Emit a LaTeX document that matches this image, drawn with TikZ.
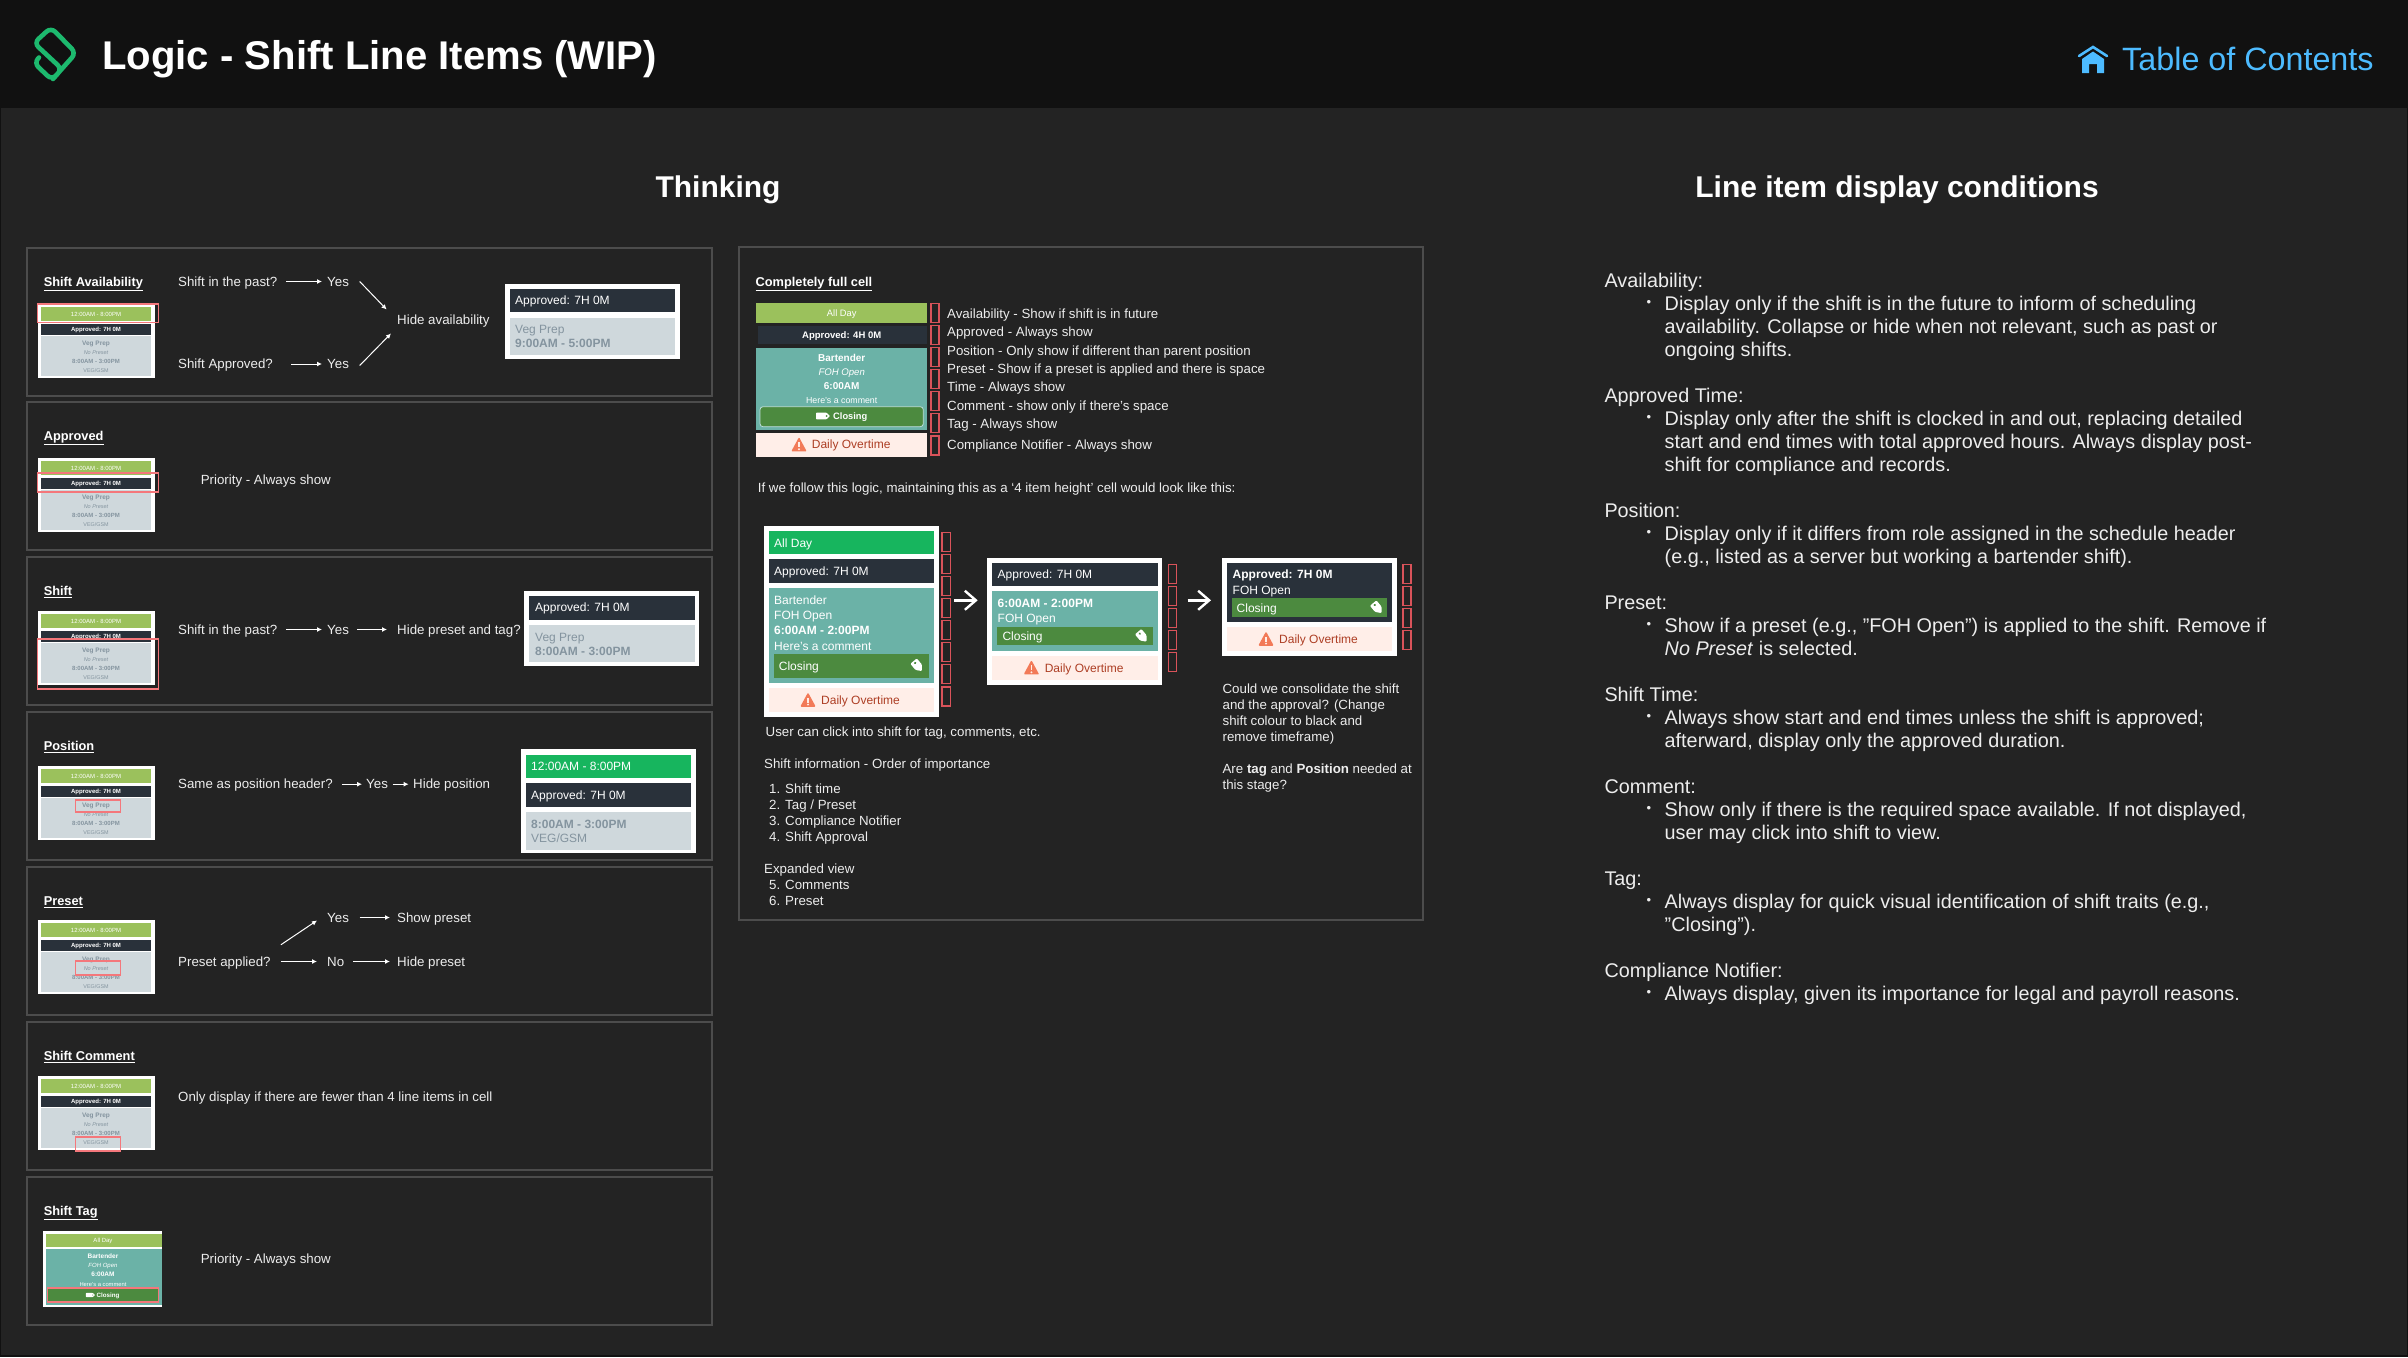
\documentclass[tikz,border=0pt]{standalone}
\usepackage{fontspec}
\setmainfont{Liberation Sans}
\usetikzlibrary{calc,arrows.meta}
\definecolor{pagebg}{HTML}{232323}
\definecolor{headbg}{HTML}{111111}
\definecolor{panelline}{HTML}{4C4C4C}
\definecolor{paletxt}{HTML}{EDEDED}
\definecolor{availgreen}{HTML}{9BC15C}
\definecolor{brightgreen}{HTML}{17B55E}
\definecolor{apprdark}{HTML}{29313A}
\definecolor{shiftgray}{HTML}{CFD8DC}
\definecolor{graytxt}{HTML}{84949F}
\definecolor{markred}{HTML}{F4777B}
\definecolor{boxred}{HTML}{D9535A}
\definecolor{shiftteal}{HTML}{6BB2A7}
\definecolor{taggreen}{HTML}{4C8A3F}
\definecolor{overfill}{HTML}{FFEEE8}
\definecolor{overtxt}{HTML}{AD3E24}
\definecolor{warncol}{HTML}{F27A58}
\definecolor{tocblue}{HTML}{4DBBFF}
\definecolor{logogreen}{HTML}{1DB96E}
\tikzset{
  txt/.style={anchor=west,inner sep=0pt,text depth=0pt},
  lbl/.style={txt,text=paletxt,text height=9.3pt,yshift=-0.5pt,font=\fontsize{13.3}{15}\selectfont},
  lblhead/.style={txt,text=white,text height=9.3pt,yshift=-0.8pt,font=\bfseries\fontsize{12.8}{15}\selectfont},
  body/.style={txt,text=paletxt,text height=13.6pt,yshift=-0.5pt,font=\fontsize{19.8}{23}\selectfont},
  celltxt/.style={txt,text=white,text height=8.6pt,font=\fontsize{12}{14}\selectfont},
  fulltxt/.style={anchor=center,inner sep=0pt,text depth=0pt,text=white,text height=6.6pt,font=\fontsize{9.3}{11}\selectfont},
  minitxt/.style={anchor=center,inner sep=0pt,text depth=0pt,text=graytxt,text height=4.3pt,font=\fontsize{6}{7}\selectfont},
  flow/.style 2 args={-{Latex[length=5pt,width=5pt]},white,line width=1pt,shorten <=#1pt,shorten >=#2pt},
  bigflow/.style={-{Straight Barb[length=11pt,width=19pt,line width=2.4pt]},white,line width=2.4pt},
  markbox/.style={draw=markred,line width=1.5pt},
  slotbox/.style={draw=boxred,line width=1.5pt},
}
\newcommand{\warnmark}[2]{
  \fill[warncol,draw=warncol,line width=1.5pt,line join=round] (#1-6.5,#2+6) -- (#1,#2-6) -- (#1+6.5,#2+6) -- cycle;
  \fill[overfill] (#1-0.9,#2-2.5) rectangle (#1+0.9,#2+2.5);
  \fill[overfill] (#1,#2+4.6) circle (1.1pt);
}
\newcommand{\tagmark}[2]{
  \begin{scope}[shift={(#1,#2)},rotate=-50]
    \fill[white,rounded corners=1pt] (-6,-4.2) -- (2,-4.2) -- (7,0) -- (2,4.2) -- (-6,4.2) -- cycle;
    \fill[taggreen] (-3.5,0) circle (1.2pt);
  \end{scope}
}
\newcommand{\tagflat}[3]{
  \begin{scope}[shift={(#1,#2)},scale=#3]
    \fill[white,rounded corners=0.6pt] (-7,-3.3) -- (3.5,-3.3) -- (7,0) -- (3.5,3.3) -- (-7,3.3) -- cycle;
    \fill[taggreen] (3.6,0) circle (0.9pt);
  \end{scope}
}
\begin{document}
\begin{tikzpicture}[x=1pt,y=-1pt]
  \useasboundingbox (0,0) rectangle (2408,1357);
  \fill[headbg] (0,0) rectangle (2408,1357);
  \fill[pagebg] (1,108) rectangle (2407,1355);
  % header
  \draw[logogreen,line width=4.6pt,rounded corners=6pt,line cap=round]
    (39,57.5) -- (34,63) -- (52,80) -- (76,53) -- (51,27.5) -- (34,43) -- (62,69) -- (53,79);
  \node[txt,text=white,text height=28.6pt,font=\bfseries\fontsize{40.1}{46}\selectfont] (maintitle) at (102,55) {Logic - Shift Line Items (WIP)};
  \draw[tocblue,line width=2.6pt,line cap=round] (2079,56) -- (2093,47) -- (2107,56);
  \fill[tocblue] (2082,59) -- (2093,51.5) -- (2104,59) -- (2104,73) -- (2097,73) -- (2097,64) -- (2089,64) -- (2089,73) -- (2082,73) -- cycle;
  \node[txt,text=tocblue,text height=23pt,font=\fontsize{32.3}{38}\selectfont] (toclink) at (2122,59) {Table of Contents};
  \node[txt,anchor=center,text=white,text height=21.5pt,font=\bfseries\fontsize{30}{36}\selectfont] (thinking) at (718,187) {Thinking};
  \node[txt,anchor=center,text=white,text height=21.5pt,font=\bfseries\fontsize{30}{36}\selectfont] (conditions) at (1897,187) {Line item display conditions};
  % left panels
  \foreach \py/\pn/\ptitle in {248/pa/Shift Availability,402/pb/Approved,557/pc/Shift,712/pd/Position,867/pe/Preset,1022/pf/Shift Comment,1177/pg/Shift Tag} {
    \draw[panelline,line width=2pt] (27,\py) rectangle (712,\py+148);
    \node[lblhead] (\pn title) at (43.6,\py+33) {\underline{\ptitle}};
  }
  % small cells
  \foreach \cy/\cn in {304/ca,458/cb,611/cc,766/cd,920/ce,1076/cf} {
    \fill[white] (37.5,\cy) rectangle (155,\cy+74);
    \fill[availgreen] (41,\cy+3) rectangle (151,\cy+17);
    \fill[apprdark] (41,\cy+20) rectangle (151,\cy+30.5);
    \fill[shiftgray] (41,\cy+32) rectangle (151,\cy+72);
    \node[minitxt,text=white] (\cn avail) at (96,\cy+10) {12:00AM - 8:00PM};
    \node[minitxt,text=white,font=\bfseries\fontsize{6}{7}\selectfont] (\cn appr) at (96,\cy+25) {Approved: 7H 0M};
    \node[minitxt,font=\bfseries\fontsize{6.5}{7}\selectfont] (\cn pos) at (96,\cy+39) {Veg Prep};
    \node[minitxt,font=\itshape\fontsize{5.5}{7}\selectfont] (\cn pre) at (96,\cy+48) {No Preset};
    \node[minitxt,font=\bfseries\fontsize{6}{7}\selectfont] (\cn time) at (96,\cy+57.5) {8:00AM - 3:00PM};
    \node[minitxt,font=\fontsize{5.4}{7}\selectfont] (\cn tag) at (96,\cy+66) {VEG/GSM};
  }
  \draw[markbox] (37.6,304) rectangle (158.4,322.7);
  \draw[markbox] (37.6,473) rectangle (158.4,492);
  \draw[markbox] (37.6,639) rectangle (158.4,689);
  \draw[markbox] (75.3,800) rectangle (120.3,812);
  \draw[markbox] (75.3,961) rectangle (120.3,975);
  \draw[markbox] (75.3,1137) rectangle (120.3,1151);
  % tag cell
  \fill[white] (43,1231) rectangle (162,1307);
  \fill[availgreen] (46,1233.5) rectangle (161.6,1247);
  \fill[shiftteal] (46,1248.5) rectangle (161.6,1305);
  \fill[taggreen] (47.3,1288) rectangle (158.4,1302);
  \node[minitxt,text=white] (tcavail) at (103,1240) {All Day};
  \node[minitxt,text=white,font=\bfseries\fontsize{6.5}{7}\selectfont] (tcpos) at (103,1256) {Bartender};
  \node[minitxt,text=white,font=\itshape\fontsize{6}{7}\selectfont] (tcpre) at (103,1265) {FOH Open};
  \node[minitxt,text=white,font=\bfseries\fontsize{6.5}{7}\selectfont] (tctime) at (103,1274.5) {6:00AM};
  \node[minitxt,text=white,font=\fontsize{5.8}{7}\selectfont] (tccomment) at (103,1284) {Here’s a comment};
  \tagflat{90.5}{1295}{0.65}
  \node[minitxt,text=white,font=\bfseries\fontsize{6.2}{7}\selectfont] (tctag) at (108,1295) {Closing};
  \draw[markbox] (47.3,1288) rectangle (158.4,1302);
  % availability row
  \node[lbl] (qa) at (178,281) {Shift in the past?};
  \node[lbl] (ya) at (327,281) {Yes};
  \node[lbl] (qb) at (178,363.5) {Shift Approved?};
  \node[lbl] (yb) at (327,363.5) {Yes};
  \node[lbl] (hidea) at (397,319) {Hide availability};
  \draw[flow={9}{5}] (qa) -- (ya);
  \draw[flow={18}{5}] (qb) -- (yb);
  \draw[flow={0}{0}] ($(ya.east)+(10.6,0)$) -- ($(hidea.west)+(-10.4,-10)$);
  \draw[flow={0}{0}] ($(yb.east)+(10.6,1.5)$) -- ($(hidea.west)+(-6,14)$);
  \fill[white] (505,284) rectangle (679.5,359);
  \fill[apprdark] (509.6,288.7) rectangle (675,312);
  \fill[shiftgray] (509.6,317.7) rectangle (675,355);
  \node[celltxt] (ra1) at (515,300.5) {Approved: 7H 0M};
  \node[celltxt,text=graytxt] (ra2) at (515,329) {Veg Prep};
  \node[celltxt,text=graytxt,font=\bfseries\fontsize{12}{14}\selectfont] (ra3) at (515,343) {9:00AM - 5:00PM};
  % approved row
  \node[lbl] (prioa) at (200.6,479) {Priority - Always show};
  % shift row
  \node[lbl] (qc) at (178,629) {Shift in the past?};
  \node[lbl] (yc) at (327,629) {Yes};
  \node[lbl] (hidec) at (397,629) {Hide preset and tag?};
  \draw[flow={9}{5}] (qc) -- (yc);
  \draw[flow={8}{10}] (yc) -- (hidec);
  \fill[white] (524,591) rectangle (699,666.3);
  \fill[apprdark] (529.4,595.7) rectangle (694.7,619.7);
  \fill[shiftgray] (529.4,625) rectangle (694.7,662);
  \node[celltxt] (rc1) at (535,607.5) {Approved: 7H 0M};
  \node[celltxt,text=graytxt] (rc2) at (535,636.7) {Veg Prep};
  \node[celltxt,text=graytxt,font=\bfseries\fontsize{12}{14}\selectfont] (rc3) at (535,650.7) {8:00AM - 3:00PM};
  % position row
  \node[lbl] (qd) at (178,783.7) {Same as position header?};
  \node[lbl] (yd) at (366,783.7) {Yes};
  \node[lbl] (hided) at (413,783.7) {Hide position};
  \draw[flow={9}{4}] (qd) -- (yd);
  \draw[flow={4.6}{4.4}] (yd) -- (hided);
  \fill[white] (521,749) rectangle (695.6,853);
  \fill[brightgreen] (525.7,754.7) rectangle (691,778);
  \fill[apprdark] (525.7,783) rectangle (691,806.7);
  \fill[shiftgray] (525.7,812) rectangle (691,850);
  \node[celltxt] (rd1) at (531,766) {12:00AM - 8:00PM};
  \node[celltxt] (rd2) at (531,795) {Approved: 7H 0M};
  \node[celltxt,text=graytxt,font=\bfseries\fontsize{12}{14}\selectfont] (rd3) at (531,823.7) {8:00AM - 3:00PM};
  \node[celltxt,text=graytxt] (rd4) at (531,837.7) {VEG/GSM};
  % preset row
  \node[lbl] (qe) at (178,961) {Preset applied?};
  \node[lbl] (ye) at (327,917) {Yes};
  \node[lbl] (ne) at (327,961) {No};
  \node[lbl] (showe) at (397,917) {Show preset};
  \node[lbl] (hidee) at (397,961) {Hide preset};
  \draw[flow={10}{10}] (qe) -- (ne);
  \draw[flow={8.6}{7}] (ne) -- (hidee);
  \draw[flow={10.6}{7}] (ye) -- (showe);
  \draw[flow={0}{0}] ($(qe.east)+(10,-16.7)$) -- ($(ye.west)+(-10,3)$);
  % comment and tag rows
  \node[lbl] (onlyf) at (178,1096) {Only display if there are fewer than 4 line items in cell};
  \node[lbl] (priog) at (200.6,1258) {Priority - Always show};
  % middle panel
  \draw[panelline,line width=2pt] (738.5,247) rectangle (1423,920);
  \node[lblhead] (fulltitle) at (755.4,281) {\underline{Completely full cell}};
  \fill[availgreen] (756,303.3) rectangle (926.7,322.7);
  \fill[apprdark] (758,326) rectangle (926.7,344.3);
  \fill[shiftteal] (756,347.7) rectangle (926.7,430);
  \fill[taggreen,draw=white!55!shiftteal,line width=0.8pt,rounded corners=3pt] (760,406.7) rectangle (923.3,426.7);
  \fill[overfill] (756,432.7) rectangle (926.7,456.7);
  \node[fulltxt] (fullavail) at (841.7,313) {All Day};
  \node[fulltxt,font=\bfseries\fontsize{9.5}{11}\selectfont] (fullappr) at (841.7,335) {Approved: 4H 0M};
  \node[fulltxt,font=\bfseries\fontsize{10}{12}\selectfont,text height=7.2pt] (fullpos) at (841.7,358.3) {Bartender};
  \node[fulltxt,font=\itshape\fontsize{9.6}{12}\selectfont] (fullpre) at (841.7,371.7) {FOH Open};
  \node[fulltxt,font=\bfseries\fontsize{10}{12}\selectfont,text height=7.2pt] (fulltime) at (841.7,386.3) {6:00AM};
  \node[fulltxt,font=\fontsize{8.8}{11}\selectfont] (fullcomment) at (841.7,399.7) {Here’s a comment};
  \tagflat{823}{416}{1}
  \node[txt,text=white,text height=6.6pt,font=\bfseries\fontsize{9.3}{11}\selectfont] (fulltag) at (833,416) {Closing};
  \warnmark{799}{444.7}
  \node[celltxt,text=overtxt] (fullover) at (811.7,444.5) {Daily Overtime};
  \foreach \sy in {303.7,325.7,347.7,369.7,391.7,413.7,436} {
    \draw[slotbox] (931,\sy) rectangle (939,\sy+19);
  }
  \foreach \ly/\lt in {313.3/Availability - Show if shift is in future,331.7/Approved - Always show,350/Position - Only show if different than parent position,368.3/Preset - Show if a preset is applied and there is space,386.7/Time - Always show,405/Comment - show only if there’s space,423.7/Tag - Always show,444.3/Compliance Notifier - Always show} {
    \node[lbl] (slot\ly) at (947,\ly) {\lt};
  }
  \node[lbl] (iffollow) at (757.7,487.7) {If we follow this logic, maintaining this as a ‘4 item height’ cell would look like this:};
  % cell A
  \fill[white] (763.8,525.7) rectangle (938.5,717);
  \fill[brightgreen] (768.6,530.7) rectangle (934,554.3);
  \fill[apprdark] (768.6,559.3) rectangle (934,583);
  \fill[shiftteal] (768.6,588.3) rectangle (934,682.7);
  \fill[taggreen] (773.5,654) rectangle (928.8,677.7);
  \fill[overfill] (768.6,688) rectangle (934,711.7);
  \node[celltxt] (aavail) at (774,542.7) {All Day};
  \node[celltxt] (aappr) at (774,571.3) {Approved: 7H 0M};
  \node[celltxt] (apos) at (774,599.7) {Bartender};
  \node[celltxt] (apre) at (774,615) {FOH Open};
  \node[celltxt,font=\bfseries\fontsize{12}{14}\selectfont] (atime) at (774,630.3) {6:00AM - 2:00PM};
  \node[celltxt] (acomment) at (774,645.7) {Here’s a comment};
  \node[celltxt] (atag) at (778.7,665.7) {Closing};
  \tagmark{917.4}{665.7}
  \warnmark{808}{700}
  \node[celltxt,text=overtxt] (aover) at (821,700) {Daily Overtime};
  \foreach \sy in {532.3,554.3,576.3,598.3,620.3,642.7,664.7,687} {
    \draw[slotbox] (942,\sy) rectangle (950.4,\sy+19);
  }
  % cell B
  \coordinate (arrowa) at (954,600.3);
  \coordinate (arrowb) at (977.7,600.3);
  \draw[bigflow] (arrowa) -- (arrowb);
  \fill[white] (987.4,557.7) rectangle (1162,684.7);
  \fill[apprdark] (992.2,562.7) rectangle (1157.7,586.3);
  \fill[shiftteal] (992.2,591.3) rectangle (1157.7,650.7);
  \fill[taggreen] (997,626.7) rectangle (1152.8,645.3);
  \fill[overfill] (992.2,655.7) rectangle (1157.7,680);
  \node[celltxt] (bappr) at (997.5,574.3) {Approved: 7H 0M};
  \node[celltxt,font=\bfseries\fontsize{12}{14}\selectfont] (btime) at (997.5,603) {6:00AM - 2:00PM};
  \node[celltxt] (bpre) at (997.5,618.3) {FOH Open};
  \node[celltxt] (btag) at (1002.3,636.3) {Closing};
  \tagmark{1142}{636.3}
  \warnmark{1031.4}{667.7}
  \node[celltxt,text=overtxt] (bover) at (1044.6,667.7) {Daily Overtime};
  \foreach \sy in {564.3,586.3,608.3,630.3,652.3} {
    \draw[slotbox] (1168.3,\sy) rectangle (1176.6,\sy+19);
  }
  % cell C
  \coordinate (arrowc) at (1187.6,600.3);
  \coordinate (arrowd) at (1211,600.3);
  \draw[bigflow] (arrowc) -- (arrowd);
  \fill[white] (1222,557.7) rectangle (1396.7,656);
  \fill[apprdark] (1226.8,562.7) rectangle (1392.3,622);
  \fill[taggreen] (1231.6,598) rectangle (1387,616.7);
  \fill[overfill] (1226.8,627) rectangle (1392.3,651);
  \node[celltxt,font=\bfseries\fontsize{12}{14}\selectfont] (cappr) at (1232.5,574.3) {Approved: 7H 0M};
  \node[celltxt] (cpre) at (1232.5,589.7) {FOH Open};
  \node[celltxt] (ctag) at (1236.5,607.7) {Closing};
  \tagmark{1377}{607.7}
  \warnmark{1266}{639}
  \node[celltxt,text=overtxt] (cover) at (1279,639) {Daily Overtime};
  \foreach \sy in {564.3,586.3,608.3,630.3} {
    \draw[slotbox] (1403,\sy) rectangle (1411,\sy+19);
  }
  % notes under the cells
  \node[lbl] (userclick) at (765.5,731.3) {User can click into shift for tag, comments, etc.};
  \node[lbl] (orderhead) at (764,763.3) {Shift information - Order of importance};
  \foreach \ly/\lt in {788/1. Shift time,804/{2. Tag / Preset},820/3. Compliance Notifier,836/4. Shift Approval,884.3/5. Comments,900.3/6. Preset} {
    \node[lbl] (order\ly) at (769,\ly) {\lt};
  }
  \node[lbl] (expanded) at (764,868.3) {Expanded view};
  \foreach \ly/\lt in {688.3/Could we consolidate the shift,704.3/and the approval? (Change,720.3/shift colour to black and,736.3/remove timeframe),768.3/{Are \textbf{tag} and \textbf{Position} needed at},784.3/this stage?} {
    \node[lbl] (could\ly) at (1222.4,\ly) {\lt};
  }
  % right column
  \foreach \ly/\lt in {280/Availability:,395.3/Approved Time:,510.3/Position:,602.3/Preset:,694/Shift Time:,786/Comment:,878/Tag:,970/Compliance Notifier:} {
    \node[body] (cond\ly) at (1604.3,\ly) {\lt};
  }
  \foreach \ly in {303.3,418.3,533.3,625.3,717,809,901,993} {
    \node[anchor=center,inner sep=0pt,text=paletxt,font=\fontsize{13}{15}\selectfont] (dot\ly) at (1649,\ly) {•};
  }
  \foreach \ly/\lt in {
    303.3/Display only if the shift is in the future to inform of scheduling,
    326.3/{availability. Collapse or hide when not relevant, such as past or},
    349.3/ongoing shifts.,
    418.3/{Display only after the shift is clocked in and out, replacing detailed},
    441.3/start and end times with total approved hours. Always display post-,
    464.3/shift for compliance and records.,
    533.3/Display only if it differs from role assigned in the schedule header,
    556.3/{(e.g., listed as a server but working a bartender shift).},
    625.3/{Show if a preset (e.g., "FOH Open") is applied to the shift. Remove if},
    648.3/{\textit{No Preset} is selected.},
    717/{Always show start and end times unless the shift is approved;},
    740/{afterward, display only the approved duration.},
    809/{Show only if there is the required space available. If not displayed,},
    832/user may click into shift to view.,
    901/{Always display for quick visual identification of shift traits (e.g.,},
    924/{"Closing").},
    993/{Always display, given its importance for legal and payroll reasons.}} {
    \node[body] (line\ly) at (1664.5,\ly) {\lt};
  }
\end{tikzpicture}
\end{document}
